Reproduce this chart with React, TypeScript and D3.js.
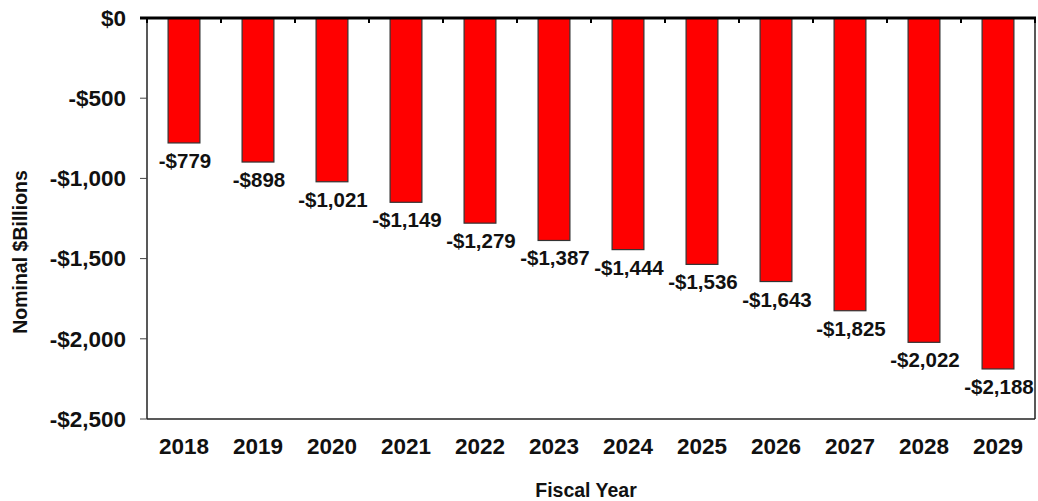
import React from "react";
import * as d3 from "d3";

const years = ["2018","2019","2020","2021","2022","2023","2024","2025","2026","2027","2028","2029"];
const deficits = [-779,-898,-1021,-1149,-1279,-1387,-1444,-1536,-1643,-1825,-2022,-2188];
const yTicks = [0,-500,-1000,-1500,-2000,-2500];

const W = 1038, H = 501;
const left = 147, right = 1035, top = 18, bottom = 419;
const font = "'Liberation Sans', Arial, sans-serif";

export default function App() {
  const x = d3.scaleBand<string>().domain(years).range([left, right]).paddingInner(0.57).paddingOuter(0.285);
  const y = d3.scaleLinear().domain([0, -2500]).range([top, bottom]);
  const band = (right - left) / years.length;
  const fmt = (v: number) => (v < 0 ? "-$" : "$") + d3.format(",")(Math.abs(v));
  return (
    <svg width={W} height={H} style={{ position: "absolute", left: 0, top: 0, background: "#fff" }} fontFamily={font}>
      {/* frame */}
      <line x1={left} x2={left} y1={top} y2={bottom} stroke="#222" strokeWidth={1.5} />
      <line x1={right} x2={right} y1={top} y2={bottom} stroke="#222" strokeWidth={1.5} />
      <line x1={left} x2={right} y1={bottom} y2={bottom} stroke="#222" strokeWidth={1.5} />
      {/* y ticks */}
      {yTicks.map((t) => (
        <g key={t}>
          <line x1={left - 7} x2={left} y1={y(t)} y2={y(t)} stroke="#444" strokeWidth={1} />
          <text x={126} y={y(t)} dy="0.35em" textAnchor="end" fontWeight="bold" fontSize={22.5} fill="#111">
            {fmt(t)}
          </text>
        </g>
      ))}
      {/* bars */}
      {deficits.map((v, i) => (
        <g key={years[i]}>
          <rect x={x(years[i])!} y={y(0)} width={x.bandwidth()} height={y(v) - y(0)} fill="#ff0000" stroke="#333" strokeWidth={1.2} />
          <text x={x(years[i])! + x.bandwidth() / 2 + 1} y={y(v) + 25} textAnchor="middle" fontWeight="bold" fontSize={20.5} fill="#111">
            {fmt(v)}
          </text>
        </g>
      ))}
      {/* top zero line with category ticks */}
      <line x1={left - 7} x2={right + 1} y1={top} y2={top} stroke="#000" strokeWidth={3} />
      {years.map((yr, i) => (
        <line key={"t" + yr} x1={left + band * i} x2={left + band * i} y1={top} y2={top + 5} stroke="#000" strokeWidth={2} />
      ))}
      <line x1={right} x2={right} y1={top} y2={top + 5} stroke="#000" strokeWidth={2} />
      {/* x labels */}
      {years.map((yr) => (
        <text key={"l" + yr} x={x(yr)! + x.bandwidth() / 2} y={454} textAnchor="middle" fontWeight="bold" fontSize={22.5} fill="#111">
          {yr}
        </text>
      ))}
      <text x={586} y={497} textAnchor="middle" fontWeight="bold" fontSize={19.5} fill="#111">Fiscal Year</text>
      <text transform="translate(27,252) rotate(-90)" textAnchor="middle" fontWeight="bold" fontSize={19.5} fill="#111">Nominal $Billions</text>
    </svg>
  );
}
